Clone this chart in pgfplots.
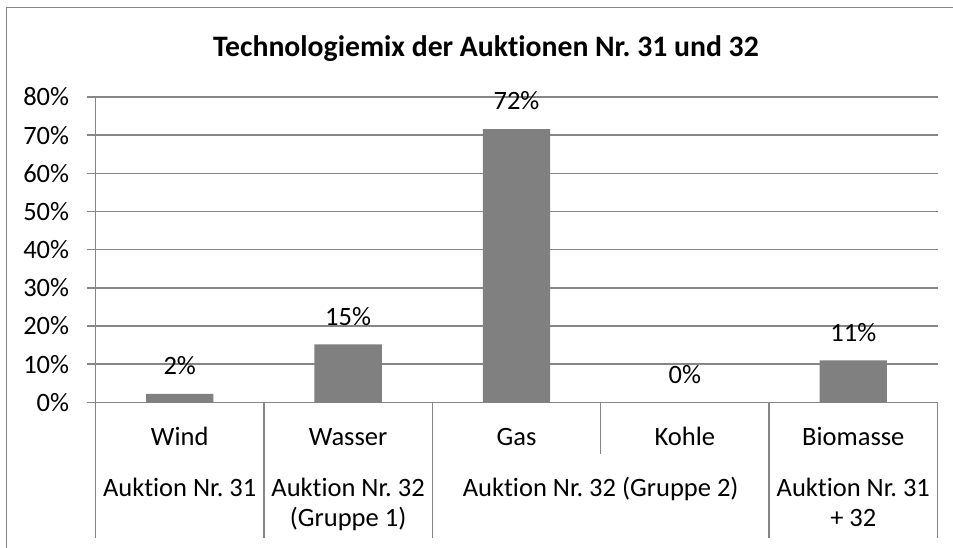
\documentclass[border=0pt]{standalone}
\usepackage{fontspec}
\setmainfont{Carlito}[Ligatures={NoCommon}]
\usepackage{pgfplots}
\pgfplotsset{compat=1.18}
\definecolor{gridgray}{HTML}{868686}
\definecolor{bargray}{HTML}{808080}
\frenchspacing
\newcommand{\lab}{\fontsize{13.25}{15.9}\selectfont}
\begin{document}
\lab
\begin{tikzpicture}
\useasboundingbox (-47.75pt,-72.35pt) rectangle (428.75pt,201.15pt);
\begin{axis}[
  at={(0pt,0pt)}, anchor=south west,
  scale only axis, width=421pt, height=152.65pt,
  xmin=-0.5, xmax=4.5, ymin=0, ymax=80,
  ytick={0,10,...,80},
  yticklabel={\pgfmathprintnumber{\tick}\%},
  /pgf/number format/assume math mode=true,
  xtick=\empty,
  axis lines*=left,
  axis line style={gridgray, line width=0.75pt},
  ymajorgrids, grid style={gridgray, line width=0.75pt},
  major tick length=4.25pt, tick align=outside,
  ytick style={gridgray, line width=0.75pt},
  yticklabel style={font=\lab, inner sep=0pt, xshift=-8.75pt},
  ybar, bar width=0.4,
  nodes near coords={\pgfmathprintnumber[fixed,precision=0]{\pgfplotspointmeta}\%},
  every node near coord/.append style={anchor=base, yshift=9.6pt, font=\lab, text=black},
  clip=false,
]
\addplot[fill=bargray, draw=none] coordinates {(0,2.2) (1,15.2) (2,71.6) (3,0) (4,11.0)};
\end{axis}
% outer frame
\draw[gridgray, line width=0.75pt] (-44.5pt,-80pt) -- (-44.5pt,197.4pt) -- (440pt,197.4pt);
% title
\node[anchor=base, font=\fontsize{14.85}{17.8}\selectfont\bfseries, inner sep=0pt] at (195.2pt,172.8pt) {Technologiemix der Auktionen Nr. 31 und 32};
% category separators
\foreach \x in {0,84.2,168.4,336.8,421} {\draw[gridgray, line width=0.75pt] (\x pt,0pt) -- (\x pt,-67.85pt);}
\draw[gridgray, line width=0.75pt] (252.6pt,0pt) -- (252.6pt,-25.85pt);
% category labels
\begin{scope}[every node/.style={anchor=base, inner sep=0pt, font=\lab}]
\node at (42.1pt,-21.35pt) {Wind};
\node at (126.3pt,-21.35pt) {Wasser};
\node at (210.5pt,-21.35pt) {Gas};
\node at (294.7pt,-21.35pt) {Kohle};
\node at (378.9pt,-21.35pt) {Biomasse};
\node at (42.1pt,-46.85pt) {Auktion Nr. 31};
\node at (126.3pt,-46.85pt) {Auktion Nr. 32};
\node at (126.3pt,-62.2pt) {(Gruppe 1)};
\node at (252.6pt,-46.85pt) {Auktion Nr. 32 (Gruppe 2)};
\node at (378.9pt,-46.85pt) {Auktion Nr. 31};
\node at (378.9pt,-62.2pt) {+ 32};
\end{scope}
\end{tikzpicture}
\end{document}
